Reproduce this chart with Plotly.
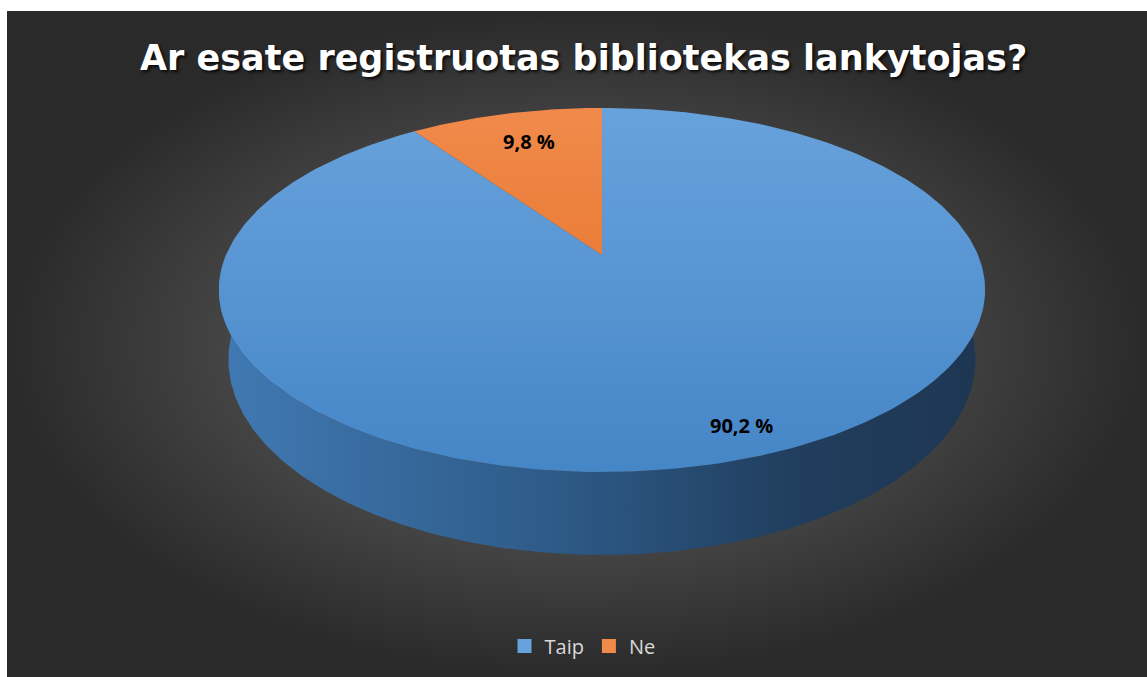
import numpy as np
import plotly.graph_objects as go

# ---- data ----
labels = ["Taip", "Ne"]
values = [90.2, 9.8]
value_texts = ["90,2 %", "9,8 %"]
slice_colors_top = ["#68a2dc", "#f08a4b"]
slice_colors_bottom = ["#4586c7", "#e36a1c"]
title_text = "Ar esate registruotas bibliotekas lankytojas?"

# ---- geometry (pixel-space layout) ----
W, H = 1147, 677
CX, CY = 602, 255          # projected pie centre
SX, SY = 376, 175.3        # projected radii
A = 0.192                  # perspective factor
DEPTH = 67
SHRINK = 0.975
LABEL_R = [0.87, 0.76]
LABEL_DX = [22, 3]


def proj(u, v, drop=0.0, shrink=1.0):
    w = 1 + A * v
    return CX + shrink * SX * u / w, CY - SY * v / w + drop / w


fig = go.Figure()

# background
fig.add_trace(go.Scatter(
    x=[7, W, W, 7, 7], y=[11, 11, H, H, 11], mode="lines", fill="toself",
    line=dict(width=0), fillcolor="#3a3a3a",
    fillgradient=dict(type="radial", colorscale=[[0, "#5e5e5e"], [0.6, "#454545"], [1, "#2a2a2a"]]),
    hoverinfo="skip", showlegend=False))

# side wall (front half)
th = np.radians(np.linspace(90, 270, 200))
tx, ty = proj(np.sin(th), np.cos(th))
bx, by = proj(np.sin(th), np.cos(th), drop=DEPTH, shrink=SHRINK)
fig.add_trace(go.Scatter(
    x=np.concatenate([tx, bx[::-1], tx[:1]]), y=np.concatenate([ty, by[::-1], ty[:1]]),
    mode="lines", fill="toself", line=dict(width=0), fillcolor="#2c5784",
    fillgradient=dict(type="horizontal", start=225, stop=985,
                      colorscale=[[0, "#4079b2"], [0.45, "#2d5986"], [0.75, "#213e5e"], [1, "#1d3652"]]),
    hoverinfo="skip", showlegend=False))

# top slices
total = sum(values)
start = 0.0
mids = []
for i, (lab, val) in enumerate(zip(labels, values)):
    ang0 = start
    ang1 = start + 360.0 * val / total
    mids.append((ang0 + ang1) / 2)
    t = np.radians(np.linspace(ang0, ang1, 300))
    rx, ry = proj(np.sin(t), np.cos(t))
    fig.add_trace(go.Scatter(
        x=np.concatenate([[CX], rx, [CX]]), y=np.concatenate([[CY], ry, [CY]]),
        mode="lines", fill="toself", line=dict(width=0), fillcolor=slice_colors_top[i],
        fillgradient=dict(type="vertical", start=108, stop=472,
                          colorscale=[[0, slice_colors_top[i]], [1, slice_colors_bottom[i]]]),
        hoverinfo="skip", showlegend=False))
    start = ang1

# value labels
for i, m in enumerate(mids):
    r = LABEL_R[i]
    lx, ly = proj(r * np.sin(np.radians(m)), r * np.cos(np.radians(m)))
    fig.add_annotation(x=lx + LABEL_DX[i], y=ly - 2, text=value_texts[i], showarrow=False,
                       font=dict(family="Open Sans", size=20, color="black", weight="bold"))

# legend entries
for i, lab in enumerate(labels):
    fig.add_trace(go.Scatter(x=[None], y=[None], mode="markers", name=lab,
                             marker=dict(symbol="square", size=14, color=slice_colors_top[i])))

fig.add_annotation(x=583, y=58, text=title_text, showarrow=False,
                   font=dict(family="DejaVu Sans", size=35, color="white", weight="bold",
                             shadow="2px 2px 3px rgba(0,0,0,0.8)"))

fig.update_layout(
    width=W, height=H, margin=dict(l=0, r=0, t=0, b=0),
    paper_bgcolor="white", plot_bgcolor="white",
    xaxis=dict(range=[0, W], visible=False, fixedrange=True),
    yaxis=dict(range=[H, 0], visible=False, fixedrange=True),
    legend=dict(orientation="h", x=0.5 + 9 / W, xanchor="center", y=1 - 646 / H, yanchor="middle",
                font=dict(family="Open Sans", size=20, color="#d9d9d9"), bgcolor="rgba(0,0,0,0)",
                itemwidth=30, tracegroupgap=0),
    showlegend=True,
)

fig.write_html("out.html")
